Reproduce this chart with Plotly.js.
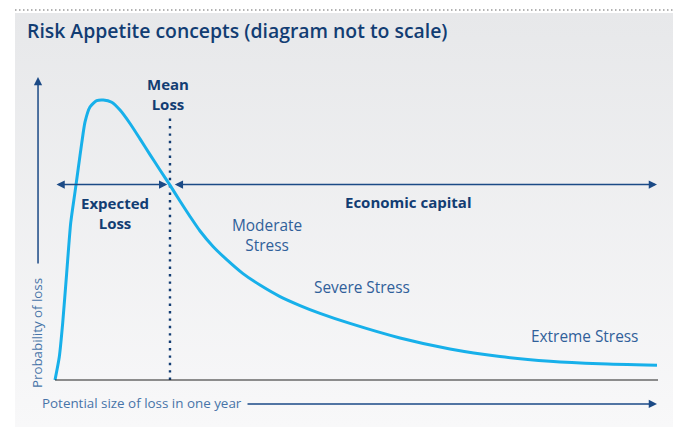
<!DOCTYPE html>
<html>
<head>
<meta charset="utf-8">
<script src="https://cdn.plot.ly/plotly-3.0.1.min.js"></script>
<style>
  html, body { margin: 0; padding: 0; background: #fff; }
  #chart { width: 673px; height: 427px; }
</style>
</head>
<body>
<div id="chart"></div>
<script>
// Loss distribution curve (loss size 0-100, probability with peak = 100)
const lossSize = [0, 0.71, 1.28, 1.94, 2.61, 3.32, 3.87, 4.44, 4.98, 5.81, 6.93, 8.02, 9.42, 10.8,
  12.46, 14.12, 15.78, 17.44, 19.1, 20.76, 22.43, 24.09, 26.25, 28.57, 31.23, 34.05, 37.38,
  40.7, 44.02, 49.0, 57.31, 65.61, 73.92, 82.23, 90.53, 100];
const probability = [0, 8.2, 20.4, 38.2, 56.1, 67.1, 75.7, 84.6, 92.1, 97.5, 99.75, 100, 99.2, 96.4,
  91.6, 86.1, 80.5, 75.0, 69.6, 63.9, 58.4, 53.2, 47.7, 42.9, 38.0, 33.9, 29.8,
  26.6, 23.8, 20.2, 15.0, 11.07, 8.39, 6.71, 5.79, 5.25];

// Key points on the diagram
const meanLoss = 19.1;
const maxLoss = 100;

// Stress labels: text, loss position, probability position
const stressLabels = ['Moderate<br>Stress', 'Severe Stress', 'Extreme Stress'];
const stressX = [35.2, 51.0, 87.9];
const stressY = [51.6, 32.9, 15.7];

const navy = '#123d73';
const arrowNavy = '#1b4a86';
const lightNavy = '#30609a';
const curveBlue = '#17b0ea';
const font = 'Open Sans, Noto Sans, sans-serif';

// axis ranges chosen so the whole panel is the plot area
const xRange = [-6.645, 102.66];
const yRange = [-16.79, 131.07];
const arrowY = 69.8;

const traces = [
  // panel background with a soft vertical gradient
  {
    x: [xRange[0], xRange[1], xRange[1], xRange[0], xRange[0]],
    y: [yRange[0], yRange[0], yRange[1], yRange[1], yRange[0]],
    mode: 'lines', line: { width: 0 }, fill: 'toself',
    fillgradient: { type: 'vertical', colorscale: [[0, '#f8f8f9'], [1, '#e7e8ea']] },
    hoverinfo: 'skip', showlegend: false
  },
  // mean loss dotted line
  {
    x: [meanLoss, meanLoss], y: [0, 93.6],
    mode: 'lines', line: { color: navy, width: 2.4, dash: '2.4px,5px' },
    hoverinfo: 'skip', showlegend: false
  },
  // loss distribution
  {
    x: lossSize, y: probability,
    mode: 'lines', line: { color: curveBlue, width: 3, shape: 'spline', smoothing: 0.6 },
    hoverinfo: 'skip', showlegend: false
  }
];

function arrow(x0, y0, x1, y1, both) {
  return {
    x: x1, y: y1, ax: x0, ay: y0, xref: 'x', yref: 'y', axref: 'x', ayref: 'y',
    text: '', showarrow: true, arrowhead: 2, startarrowhead: 2, arrowsize: 1.1,
    startarrowsize: 1.1, arrowwidth: 1.5, arrowcolor: arrowNavy,
    arrowside: both ? 'end+start' : 'end', standoff: 0, startstandoff: 0
  };
}

function label(text, x, y, bold, color, size) {
  return {
    x: x, y: y, xref: 'x', yref: 'y', text: text, showarrow: false,
    font: { family: font, size: size || 15, color: color, weight: bold ? 700 : 400 },
    align: 'center', xanchor: 'center', yanchor: 'middle'
  };
}

const annotations = [
  arrow(-2.82, 41.07, -2.82, 108.2, false),
  arrow(0, arrowY, meanLoss - 0.45, arrowY, true),
  arrow(meanLoss + 0.55, arrowY, maxLoss, arrowY, true),
  arrow(31.73, -8.57, maxLoss, -8.57, false),
  label('Mean<br>Loss', meanLoss - 0.3, 102.1, true, navy),
  label('Expected<br>Loss', 9.97, 59.8, true, navy),
  label('Economic capital', 58.6, 63.6, true, navy),
  {
    x: -2.99, y: 16.8, xref: 'x', yref: 'y', text: 'Probability of loss', showarrow: false,
    textangle: -90, font: { family: font, size: 13.3, color: '#4774a8' },
    xanchor: 'center', yanchor: 'middle'
  },
  {
    x: -2.49, y: -8.2, xref: 'x', yref: 'y', text: 'Potential size of loss in one year',
    showarrow: false, font: { family: font, size: 13.4, color: '#4774a8' },
    xanchor: 'left', yanchor: 'middle'
  }
];
stressLabels.forEach((t, i) => annotations.push(label(t, stressX[i], stressY[i], false, lightNavy, 15.4)));

const layout = {
  width: 673, height: 427,
  margin: { l: 15, r: 0, t: 13, b: 0 },
  paper_bgcolor: '#ffffff',
  plot_bgcolor: '#eff0f1',
  showlegend: false,
  title: {
    text: 'Risk Appetite concepts (diagram not to scale)',
    x: 27 / 673, xanchor: 'left', y: 1 - 31 / 427, yanchor: 'middle',
    font: { family: font, size: 19.4, color: navy, weight: 600 }
  },
  xaxis: { range: xRange, visible: false, fixedrange: true },
  yaxis: { range: yRange, visible: false, fixedrange: true },
  shapes: [
    // x axis baseline
    { type: 'line', xref: 'x', yref: 'y', x0: 0, x1: 100.17, y0: 0, y1: 0,
      line: { color: '#222222', width: 1.2 } },
    // dotted rule above the panel
    { type: 'line', xref: 'paper', yref: 'paper', x0: 0, x1: 1, y0: 1.0075, y1: 1.0075,
      line: { color: '#9a9a9a', width: 1.5, dash: '1.5px,2.5px' } }
  ],
  annotations: annotations
};

Plotly.newPlot('chart', traces, layout, { displayModeBar: false, staticPlot: true });
</script>
</body>
</html>
